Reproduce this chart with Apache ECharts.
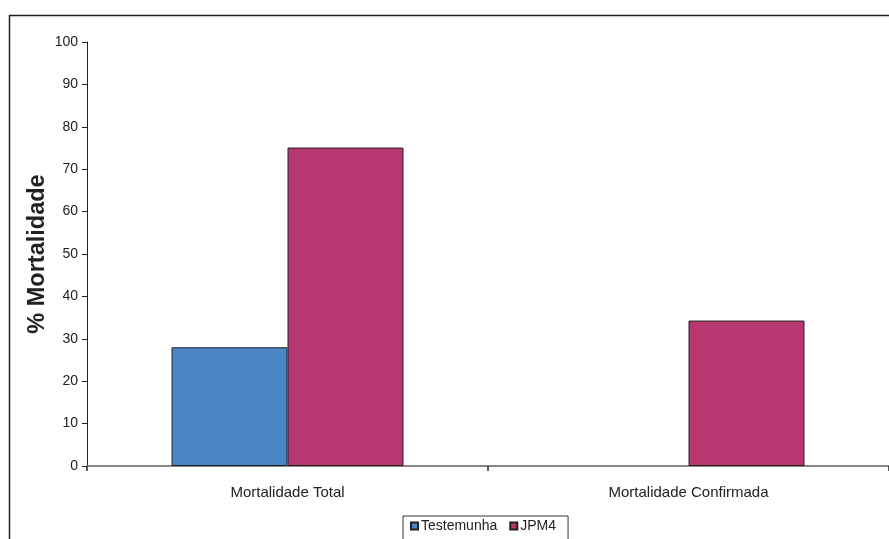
<!DOCTYPE html>
<html>
<head>
<meta charset="utf-8">
<script src="https://cdn.jsdelivr.net/npm/echarts@6/dist/echarts.min.js"></script>
<style>
  html, body { margin: 0; padding: 0; background: #fff; }
  #chart { width: 889px; height: 539px; }
</style>
</head>
<body>
<div id="chart"></div>
<script>
// Categories and mortality percentages per treatment
const categories = ['Mortalidade Total', 'Mortalidade Confirmada'];
const testemunha = [28, 0];
const jpm4 = [75.1, 34.3];
const yTicks = { min: 0, max: 100, step: 10 };

const chart = echarts.init(document.getElementById('chart'));

const font = 'Liberation Sans, Arial, sans-serif';

// zero-height bars get no outline so nothing is drawn over the axis
const toBarData = arr => arr.map(v => (v === 0 ? { value: v, itemStyle: { borderWidth: 0 } } : v));

chart.setOption({
  animation: false,
  backgroundColor: '#fff',
  textStyle: { fontFamily: font },
  graphic: [{
    type: 'rect',
    shape: { x: 9.5, y: 15.5, width: 1000, height: 1000 },
    style: { fill: 'none', stroke: '#222', lineWidth: 1.5 },
    z: -1
  }],
  grid: { left: 87, top: 42, right: 0, bottom: 73, containLabel: false },
  legend: {
    left: 403,
    top: 516,
    orient: 'horizontal',
    icon: 'rect',
    itemWidth: 7,
    itemHeight: 7,
    itemGap: 12,
    padding: [3, 12, 12, 7],
    borderColor: '#333',
    borderWidth: 1,
    textStyle: { fontFamily: font, fontSize: 14, color: '#222', padding: [0, 0, 0, -2] },
    data: ['Testemunha', 'JPM4']
  },
  xAxis: {
    type: 'category',
    data: categories,
    boundaryGap: true,
    axisLine: { lineStyle: { color: '#888', width: 2 } },
    axisTick: { show: true, alignWithLabel: false, length: 5, lineStyle: { color: '#222', width: 1.5 } },
    axisLabel: { color: '#222', fontSize: 15, margin: 19, fontFamily: font },
    splitLine: { show: false }
  },
  yAxis: {
    type: 'value',
    min: yTicks.min,
    max: yTicks.max,
    interval: yTicks.step,
    name: '% Mortalidade',
    nameLocation: 'middle',
    nameGap: 37,
    nameMoveOverlap: false,
    nameTextStyle: { fontSize: 23.5, fontWeight: 'bold', color: '#222', fontFamily: font },
    axisLine: { show: true, lineStyle: { color: '#222', width: 1 } },
    axisTick: { show: true, length: 5, lineStyle: { color: '#222' } },
    axisLabel: { color: '#222', fontSize: 14, margin: 9, fontFamily: font },
    splitLine: { show: false }
  },
  series: [
    {
      name: 'Testemunha',
      type: 'bar',
      data: toBarData(testemunha),
      barWidth: 116,
      barGap: '0%',
      itemStyle: { color: '#4a86c5', borderColor: '#222', borderWidth: 1 }
    },
    {
      name: 'JPM4',
      type: 'bar',
      data: toBarData(jpm4),
      barWidth: 116,
      barGap: '0%',
      itemStyle: { color: '#b83770', borderColor: '#222', borderWidth: 1 }
    }
  ]
});
</script>
</body>
</html>
